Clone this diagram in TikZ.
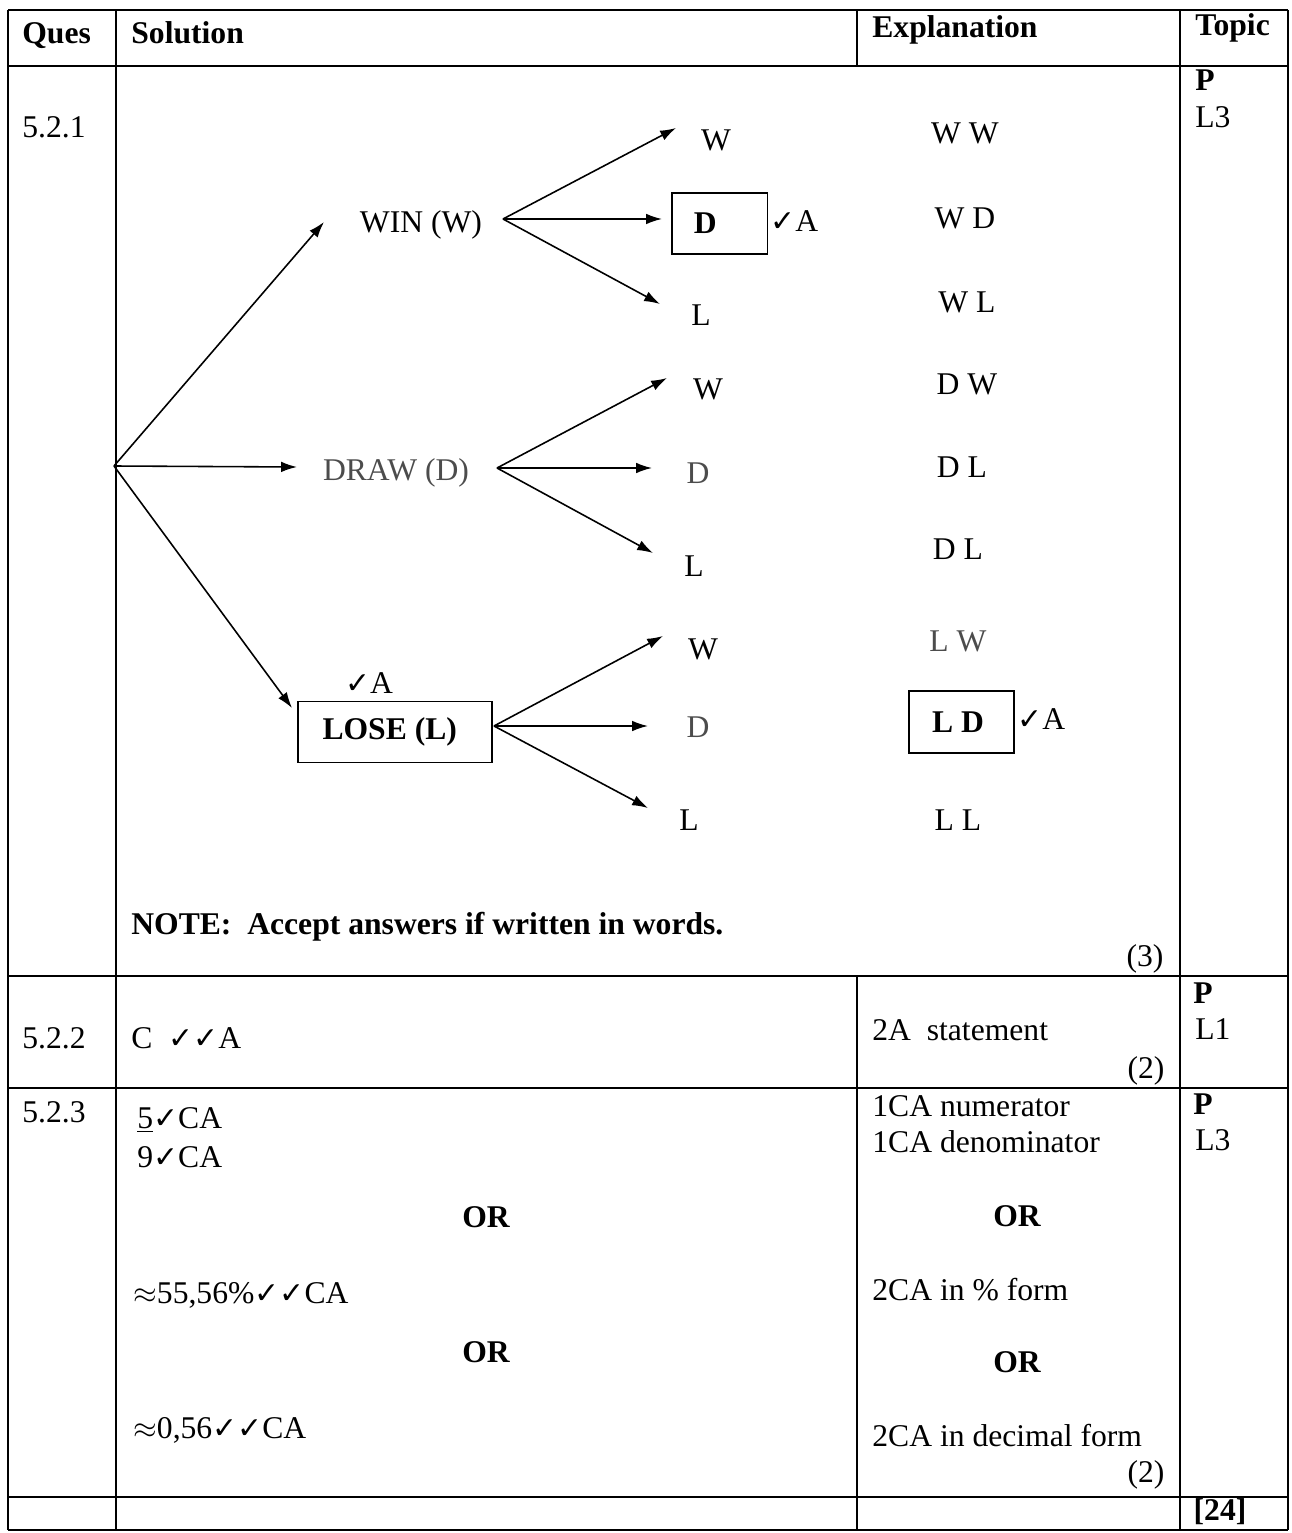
\documentclass[tikz,border=0pt]{standalone}
\usepackage{fontspec}
\setmainfont{Liberation Serif}
\newfontfamily\chkfont{DejaVu Sans}
\usetikzlibrary{arrows.meta,positioning}
\newcommand{\tick}{{\chkfont\fontsize{17}{17}\selectfont ✓}}

\begin{document}
\begin{tikzpicture}[
  x=0.02cm, y=-0.02cm,
  font=\fontsize{18}{22}\selectfont,
  rule/.style={line width=0.9pt},
  lbl/.style={inner sep=0pt, text height=12pt, text depth=0pt},
  leftlbl/.style={lbl, anchor=west},
  hdr/.style={leftlbl, font=\fontsize{18}{22}\selectfont\bfseries},
  boxed/.style={draw, line width=0.9pt, minimum height=1.22cm},
  arrow/.style={-{Latex[length=9pt,width=6pt]}, line width=0.9pt},
  faded/.style={text=black!70},
]
\useasboundingbox (0,0) rectangle (1291,1533);

% ===== Table rules =====
\draw[rule] (8,10) -- (1288,10);
\draw[rule] (8,66) -- (1288,66);
\draw[rule] (8,976) -- (1288,976);
\draw[rule] (8,1088) -- (1288,1088);
\draw[rule] (8,1497) -- (1288,1497);
\draw[rule] (8,1530) -- (1288,1530);
\draw[rule] (8,10) -- (8,1530);
\draw[rule] (116,10) -- (116,1530);
\draw[rule] (857,10) -- (857,66);
\draw[rule] (857,976) -- (857,1530);
\draw[rule] (1180,10) -- (1180,1530);
\draw[rule] (1288,10) -- (1288,1530);

% ===== Header =====
\node[hdr] (hques) at (22,33) {Ques};
\node[hdr] (hsol) at (131,33) {Solution};
\node[hdr] (hexp) at (872,27) {Explanation};
\node[hdr] (htop) at (1195,25) {Topic};

% ===== 5.2.1 =====
\node[leftlbl] (q1) at (22,127) {5.2.1};
\node[hdr] (p1) at (1195,80) {P};
\node[leftlbl] (lv1) at (1195,117) {L3};

% tree: first stage
\coordinate (root) at (114,466);
\node[lbl] (win) at (421,222) {WIN (W)};
\node[lbl, faded] (drw) at (396,470) {DRAW (D)};
\node[boxed, minimum width=3.88cm, font=\fontsize{18}{22}\selectfont\bfseries] (lose) at (395,732) {LOSE (L)\hspace*{6pt}};
\node[lbl] (losechk) at (369,683) {\tick A};

\coordinate (wintip) at (324,222);
\coordinate (drwtip) at (297,467);
\coordinate (losetip) at (292,708);
\draw[arrow] (root) -- (wintip);
\draw[arrow] (root) -- (drwtip);
\draw[arrow] (root) -- (losetip);

% tree: second stage
\coordinate (winfork) at (503,219);
\coordinate (drwfork) at (497,468);
\coordinate (losefork) at (494,726);

\node[lbl] (ww) at (716,140) {W};
\node[boxed, anchor=west, inner xsep=12.5pt, font=\fontsize{18}{22}\selectfont\bfseries] (wd) at (671,223.5) {D\hspace*{16.5pt}};
\node[leftlbl] (wdchk) at (770,221) {\tick A};
\node[lbl] (wl) at (701,315) {L};
\node[lbl] (dw) at (708,389) {W};
\node[lbl, faded] (dd) at (698,473) {D};
\node[lbl] (dl) at (694,566) {L};
\node[lbl] (lw) at (703,649) {W};
\node[lbl, faded] (ld) at (698,727) {D};
\node[lbl] (ll) at (689,820) {L};

\coordinate (wwtip) at (676,128);
\coordinate (wdtip) at (662,219);
\coordinate (wltip) at (660,304);
\coordinate (dwtip) at (667,378);
\coordinate (ddtip) at (652,468);
\coordinate (dltip) at (653,553);
\coordinate (lwtip) at (663,636);
\coordinate (ldtip) at (648,726);
\coordinate (lltip) at (648,808);

\foreach \s in {ww,wd,wl} \draw[arrow] (winfork) -- (\s tip);
\foreach \s in {dw,dd,dl} \draw[arrow] (drwfork) -- (\s tip);
\foreach \s in {lw,ld,ll} \draw[arrow] (losefork) -- (\s tip);

% outcomes list
\node[lbl] (oww) at (965,133) {W W};
\node[lbl] (owd) at (965,218) {W D};
\node[lbl] (owl) at (967,302) {W L};
\node[lbl] (odw) at (967,384) {D W};
\node[lbl] (odl) at (962,467) {D L};
\node[lbl] (odl2) at (958,549) {D L};
\node[lbl, faded] (olw) at (958,641) {L W};
\node[boxed, minimum width=2.1cm, minimum height=1.24cm, font=\fontsize{18}{22}\selectfont\bfseries] (old) at (961.5,722) {L D\hspace*{4pt}};
\node[leftlbl] (oldchk) at (1017,719) {\tick A};
\node[lbl] (oll) at (958,820) {L L};

\node[hdr] (note) at (131,924) {NOTE:\ \ Accept answers if written in words.};
\node[lbl] (m1) at (1145,956) {(3)};

% ===== 5.2.2 =====
\node[leftlbl] (q2) at (22,1038) {5.2.2};
\node[leftlbl] (s2) at (131,1038) {C \ \tick\tick A};
\node[leftlbl] (e2) at (872,1030) {2A\ \ statement};
\node[lbl] (m2) at (1146,1068) {(2)};
\node[hdr, anchor=center] (p2) at (1203,993) {P};
\node[leftlbl] (lv2) at (1195,1029) {L1};

% ===== 5.2.3 =====
\node[leftlbl] (q3) at (22,1112) {5.2.3};
\node[leftlbl] (num) at (137,1118) {\underline{5}\tick CA};
\node[leftlbl] (den) at (137,1157) {9\tick CA};
\node[hdr, anchor=center] (or1) at (486,1217) {OR};
\node[leftlbl] (pct) at (133,1293) {$\approx$55,56\%\tick\tick CA};
\node[hdr, anchor=center] (or2) at (486,1352) {OR};
\node[leftlbl] (dec) at (133,1428) {$\approx$0,56\tick\tick CA};

\node[leftlbl] (e3a) at (872,1106) {1CA numerator};
\node[leftlbl] (e3b) at (872,1142) {1CA denominator};
\node[hdr, anchor=center] (or3) at (1017,1216) {OR};
\node[leftlbl] (e3c) at (872,1290) {2CA in \% form};
\node[hdr, anchor=center] (or4) at (1017,1362) {OR};
\node[leftlbl] (e3d) at (872,1436) {2CA in decimal form};
\node[lbl] (m3) at (1146,1472) {(2)};
\node[hdr, anchor=center] (p3) at (1203,1104) {P};
\node[leftlbl] (lv3) at (1195,1140) {L3};

\node[hdr, anchor=center] (total) at (1220,1510) {[24]};
\end{tikzpicture}
\end{document}
